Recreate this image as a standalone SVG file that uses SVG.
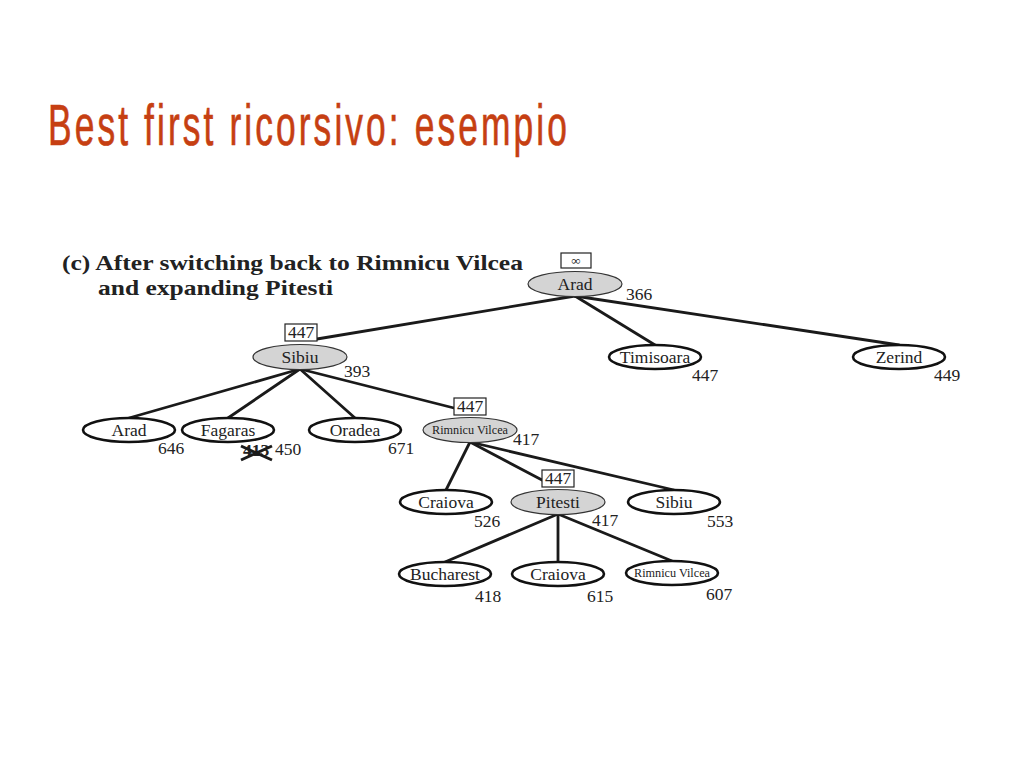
<svg xmlns="http://www.w3.org/2000/svg" width="1024" height="768" viewBox="0 0 1024 768">
<style>
.title{font-family:"Liberation Sans Narrow","Liberation Sans",sans-serif;font-size:57px;letter-spacing:5px;fill:#C63F12;stroke:#C63F12;stroke-width:0.7}
.sub{font-family:"Liberation Serif",serif;font-weight:bold;font-size:21px;fill:#222}
.lbl{font-family:"Liberation Serif",serif;font-size:17.5px;fill:#222;text-anchor:middle}
.sm{font-family:"Liberation Serif",serif;font-size:13px;fill:#222;text-anchor:middle}
.num{font-family:"Liberation Serif",serif;font-size:17.5px;fill:#222}
.grey{fill:#d4d4d4;stroke:#333;stroke-width:1.2}
.white{fill:#fff;stroke:#111;stroke-width:2.6}
.box{fill:#fff;stroke:#222;stroke-width:1.2}
.edge{stroke:#1a1a1a;stroke-width:2.8;fill:none;stroke-linecap:round}
</style>
<rect width="1024" height="768" fill="#fff"/>
<text class="title" x="48" y="145" textLength="522" lengthAdjust="spacingAndGlyphs">Best first ricorsivo: esempio</text>
<text class="sub" x="62" y="270" textLength="461" lengthAdjust="spacingAndGlyphs">(c) After switching back to Rimnicu Vilcea</text>
<text class="sub" x="98" y="295" textLength="235" lengthAdjust="spacingAndGlyphs">and expanding Pitesti</text>

<g id="connectors">
<line class="edge" x1="575" y1="296" x2="317" y2="339"/>
<line class="edge" x1="575" y1="296" x2="655" y2="345"/>
<line class="edge" x1="575" y1="296" x2="899" y2="345"/>
<line class="edge" x1="300" y1="369" x2="129" y2="418"/>
<line class="edge" x1="300" y1="369" x2="228" y2="418"/>
<line class="edge" x1="300" y1="369" x2="355" y2="418"/>
<line class="edge" x1="300" y1="369" x2="454" y2="408"/>
<line class="edge" x1="470" y1="442" x2="446" y2="490"/>
<line class="edge" x1="470" y1="442" x2="542" y2="480"/>
<line class="edge" x1="470" y1="442" x2="674" y2="490"/>
<line class="edge" x1="558" y1="514" x2="445" y2="562"/>
<line class="edge" x1="558" y1="514" x2="558" y2="562"/>
<line class="edge" x1="558" y1="514" x2="672" y2="561"/>
</g>

<g id="n-arad">
<rect class="box" x="561" y="253" width="30" height="15"/>
<text class="sm" x="576" y="265">∞</text>
<ellipse class="grey" cx="575" cy="284" rx="47" ry="12.5"/>
<text class="lbl" x="575" y="290">Arad</text>
<text class="num" x="626" y="300">366</text>
</g>
<g id="n-sibiu">
<rect class="box" x="285" y="324" width="32" height="17"/>
<text class="lbl" x="301" y="338">447</text>
<ellipse class="grey" cx="300" cy="357" rx="47" ry="12.5"/>
<text class="lbl" x="300" y="363">Sibiu</text>
<text class="num" x="344" y="377">393</text>
</g>
<g id="n-timisoara">
<ellipse class="white" cx="655" cy="357" rx="46" ry="12"/>
<text class="lbl" x="655" y="363">Timisoara</text>
<text class="num" x="692" y="381">447</text>
</g>
<g id="n-zerind">
<ellipse class="white" cx="899" cy="357" rx="46" ry="12"/>
<text class="lbl" x="899" y="363">Zerind</text>
<text class="num" x="934" y="381">449</text>
</g>
<g id="n-arad2">
<ellipse class="white" cx="129" cy="430" rx="46" ry="12"/>
<text class="lbl" x="129" y="436">Arad</text>
<text class="num" x="158" y="454">646</text>
</g>
<g id="n-fagaras">
<ellipse class="white" cx="228" cy="430" rx="46" ry="12"/>
<text class="lbl" x="228" y="436">Fagaras</text>
<text class="num" x="243" y="456" font-weight="bold">413</text>
<path d="M241 446 L272 460 M241 460 L272 446" stroke="#1a1a1a" stroke-width="3" fill="none"/>
<text class="num" x="275" y="455">450</text>
</g>
<g id="n-oradea">
<ellipse class="white" cx="355" cy="430" rx="46" ry="12"/>
<text class="lbl" x="355" y="436">Oradea</text>
<text class="num" x="388" y="454">671</text>
</g>
<g id="n-rimnicu">
<rect class="box" x="454" y="398" width="32" height="17"/>
<text class="lbl" x="470" y="412">447</text>
<ellipse class="grey" cx="470" cy="430" rx="47" ry="12.5"/>
<text class="sm" x="470" y="434" textLength="76" lengthAdjust="spacingAndGlyphs">Rimnicu Vilcea</text>
<text class="num" x="513" y="445">417</text>
</g>
<g id="n-craiova">
<ellipse class="white" cx="446" cy="502" rx="46" ry="12"/>
<text class="lbl" x="446" y="508">Craiova</text>
<text class="num" x="474" y="527">526</text>
</g>
<g id="n-pitesti">
<rect class="box" x="542" y="470" width="32" height="17"/>
<text class="lbl" x="558" y="484">447</text>
<ellipse class="grey" cx="558" cy="502" rx="47" ry="12.5"/>
<text class="lbl" x="558" y="508">Pitesti</text>
<text class="num" x="592" y="526">417</text>
</g>
<g id="n-sibiu2">
<ellipse class="white" cx="674" cy="502" rx="46" ry="12"/>
<text class="lbl" x="674" y="508">Sibiu</text>
<text class="num" x="707" y="527">553</text>
</g>
<g id="n-bucharest">
<ellipse class="white" cx="445" cy="574" rx="46" ry="12"/>
<text class="lbl" x="445" y="580">Bucharest</text>
<text class="num" x="475" y="602">418</text>
</g>
<g id="n-craiova2">
<ellipse class="white" cx="558" cy="574" rx="46" ry="12"/>
<text class="lbl" x="558" y="580">Craiova</text>
<text class="num" x="587" y="602">615</text>
</g>
<g id="n-rimnicu2">
<ellipse class="white" cx="672" cy="573" rx="46" ry="12"/>
<text class="sm" x="672" y="577" textLength="76" lengthAdjust="spacingAndGlyphs">Rimnicu Vilcea</text>
<text class="num" x="706" y="600">607</text>
</g>
</svg>
